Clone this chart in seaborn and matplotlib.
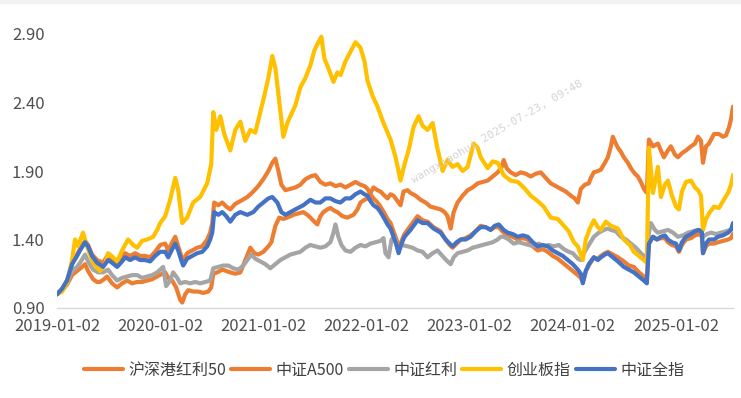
import numpy as np
import pandas as pd
import matplotlib
matplotlib.use("Agg")
import matplotlib.pyplot as plt
import seaborn as sns
from matplotlib.patches import Rectangle

# ---------------- data (time = years elapsed since 2019-01-02) ----------------
START = "2019-01-02"
series_names = ["沪深港红利50", "中证A500", "中证红利", "创业板指", "中证全指"]
series_colors = ["#ED7D31", "#ED7D31", "#A5A5A5", "#FFC000", "#4472C4"]
x_tick_labels = ["2019-01-02", "2020-01-02", "2021-01-02", "2022-01-02",
                 "2023-01-02", "2024-01-02", "2025-01-02"]
y_ticks = [0.90, 1.40, 1.90, 2.40, 2.90]

t_div = [0, .049, .097, .146, .194, .243, .272, .301, .350, .388, .417, .456, .485, .534, .583,
         .631, .680, .728, .777, .825, .874, .922, .971, 1.019, 1.049, 1.078, 1.117, 1.155, 1.194,
         1.214, 1.243, 1.272, 1.320, 1.369, 1.417, 1.466, 1.495, 1.515, 1.553, 1.602, 1.641, 1.680,
         1.728, 1.777, 1.825, 1.874, 1.913, 1.951, 2.000, 2.049, 2.078, 2.117, 2.155, 2.194, 2.233,
         2.291, 2.340, 2.388, 2.427, 2.456, 2.495, 2.524, 2.553, 2.583, 2.621, 2.650, 2.689, 2.718,
         2.767, 2.816, 2.845, 2.874, 2.913, 2.942, 2.981, 3.010, 3.039, 3.068, 3.107, 3.136, 3.175,
         3.204, 3.233, 3.262, 3.301, 3.330, 3.359, 3.398, 3.427, 3.476, 3.524, 3.573, 3.621, 3.670,
         3.718, 3.757, 3.786, 3.816, 3.845, 3.883, 3.932, 3.981, 4.029, 4.078, 4.126, 4.175, 4.223,
         4.272, 4.311, 4.330, 4.359, 4.398, 4.447, 4.495, 4.544, 4.592, 4.641, 4.689, 4.738, 4.786,
         4.835, 4.883, 4.932, 4.981, 5.019, 5.049, 5.078, 5.117, 5.155, 5.175, 5.204, 5.243, 5.272,
         5.311, 5.340, 5.369, 5.388, 5.417, 5.437, 5.466, 5.495, 5.534, 5.563, 5.602, 5.631, 5.660,
         5.689, 5.718, 5.738, 5.777, 5.825, 5.854, 5.883, 5.922, 5.951, 5.990, 6.019, 6.058, 6.097,
         6.146, 6.184, 6.214, 6.243, 6.262, 6.291, 6.320, 6.369, 6.417, 6.456, 6.485, 6.515, 6.534,
         6.553]
v_div = [1.00, 1.03, 1.07, 1.14, 1.17, 1.20, 1.22, 1.17, 1.11, 1.09, 1.09, 1.11, 1.13, 1.08, 1.05,
         1.08, 1.10, 1.08, 1.09, 1.09, 1.10, 1.11, 1.13, 1.15, 1.16, 1.12, 1.10, 1.05, 0.96,
         0.94, 1.00, 1.03, 1.02, 1.02, 1.01, 1.02, 1.05, 1.15, 1.16, 1.18, 1.17, 1.16,
         1.15, 1.16, 1.25, 1.34, 1.30, 1.29, 1.31, 1.35, 1.38, 1.50, 1.56, 1.55, 1.56,
         1.58, 1.59, 1.60, 1.58, 1.56, 1.53, 1.51, 1.57, 1.60, 1.62, 1.63, 1.61, 1.60,
         1.57, 1.56, 1.57, 1.58, 1.62, 1.67, 1.69, 1.70, 1.74, 1.78, 1.76, 1.75, 1.72,
         1.70, 1.73, 1.72, 1.68, 1.65, 1.75, 1.76, 1.74, 1.72, 1.69, 1.67, 1.64, 1.63,
         1.62, 1.60, 1.57, 1.48, 1.60, 1.67, 1.72, 1.76, 1.78, 1.81, 1.82, 1.83, 1.86,
         1.89, 1.93, 1.98, 1.92, 1.89, 1.87, 1.89, 1.88, 1.86, 1.88, 1.89, 1.85, 1.81,
         1.79, 1.77, 1.75, 1.72, 1.70, 1.67, 1.77, 1.80, 1.81, 1.85, 1.89, 1.90, 1.91,
         1.96, 2.00, 2.08, 2.15, 2.10, 2.07, 2.04, 2.00, 1.96, 1.92, 1.88, 1.86, 1.82,
         1.77, 1.74, 2.13, 2.08, 2.10, 2.05, 2.00, 2.05, 2.08, 2.02, 2.00, 2.03, 2.05,
         2.08, 2.10, 2.15, 2.12, 1.96, 2.08, 2.10, 2.17, 2.17, 2.15, 2.16, 2.22, 2.28,
         2.37]

t_a500 = [0, .049, .097, .146, .194, .223, .272, .301, .340, .388, .447, .495, .534, .583, .631,
          .660, .709, .757, .806, .854, .903, .951, 1.000, 1.049, 1.078, 1.117, 1.146, 1.175,
          1.204, 1.223, 1.262, 1.311, 1.359, 1.408, 1.456, 1.485, 1.505, 1.524, 1.563, 1.602,
          1.641, 1.680, 1.728, 1.777, 1.845, 1.903, 1.951, 2.000, 2.049, 2.087, 2.117, 2.146,
          2.175, 2.214, 2.262, 2.311, 2.359, 2.408, 2.456, 2.505, 2.553, 2.602, 2.650, 2.699,
          2.748, 2.796, 2.845, 2.893, 2.942, 2.981, 3.010, 3.039, 3.068, 3.107, 3.136, 3.175,
          3.204, 3.233, 3.262, 3.291, 3.311, 3.340, 3.369, 3.427, 3.466, 3.495, 3.544, 3.592,
          3.650, 3.718, 3.767, 3.806, 3.835, 3.874, 3.913, 3.961, 4.010, 4.058, 4.107, 4.155,
          4.204, 4.243, 4.282, 4.330, 4.369, 4.417, 4.466, 4.515, 4.563, 4.612, 4.660, 4.709,
          4.757, 4.806, 4.854, 4.903, 4.951, 5.000, 5.049, 5.078, 5.097, 5.126, 5.155, 5.204,
          5.243, 5.272, 5.311, 5.340, 5.388, 5.437, 5.495, 5.544, 5.592, 5.641, 5.689, 5.718,
          5.738, 5.777, 5.816, 5.854, 5.893, 5.922, 5.961, 6.000, 6.029, 6.058, 6.097, 6.146,
          6.184, 6.223, 6.252, 6.262, 6.291, 6.320, 6.369, 6.408, 6.456, 6.505, 6.534, 6.553]
v_a500 = [1.00, 1.04, 1.10, 1.22, 1.29, 1.33, 1.39, 1.36, 1.29, 1.25, 1.23, 1.29, 1.26, 1.23, 1.27,
          1.30, 1.28, 1.30, 1.28, 1.28, 1.27, 1.31, 1.36, 1.37, 1.32, 1.38, 1.42, 1.35,
          1.28, 1.25, 1.30, 1.32, 1.34, 1.35, 1.40, 1.45, 1.52, 1.67, 1.65, 1.67,
          1.64, 1.62, 1.66, 1.68, 1.71, 1.75, 1.79, 1.84, 1.90, 1.96, 1.99, 1.90,
          1.80, 1.76, 1.77, 1.78, 1.80, 1.84, 1.86, 1.87, 1.82, 1.80, 1.81, 1.79,
          1.80, 1.78, 1.80, 1.82, 1.80, 1.79, 1.77, 1.73, 1.70, 1.67, 1.64, 1.59,
          1.55, 1.52, 1.46, 1.40, 1.33, 1.39, 1.44, 1.50, 1.54, 1.57, 1.54, 1.53,
          1.49, 1.46, 1.40, 1.36, 1.34, 1.37, 1.40, 1.41, 1.43, 1.46, 1.50, 1.49,
          1.47, 1.49, 1.49, 1.45, 1.43, 1.42, 1.40, 1.41, 1.40, 1.35, 1.32, 1.33,
          1.31, 1.28, 1.26, 1.23, 1.20, 1.17, 1.14, 1.12, 1.09, 1.17, 1.21, 1.27,
          1.26, 1.28, 1.30, 1.31, 1.29, 1.27, 1.24, 1.21, 1.20, 1.16, 1.13, 1.11,
          1.37, 1.42, 1.40, 1.41, 1.41, 1.38, 1.36, 1.35, 1.31, 1.36, 1.40, 1.41,
          1.43, 1.44, 1.42, 1.30, 1.35, 1.37, 1.37, 1.38, 1.39, 1.40, 1.41, 1.44]

t_div_cs = [0, .049, .097, .146, .194, .223, .272, .301, .350, .398, .447, .495, .534, .583, .631,
            .680, .728, .777, .825, .874, .922, .971, 1.000, 1.029, 1.058, 1.097, 1.126, 1.165,
            1.194, 1.243, 1.291, 1.340, 1.388, 1.437, 1.485, 1.515, 1.563, 1.612, 1.660, 1.709,
            1.757, 1.806, 1.854, 1.883, 1.922, 1.971, 2.019, 2.068, 2.117, 2.165, 2.214, 2.262,
            2.311, 2.359, 2.408, 2.456, 2.505, 2.553, 2.602, 2.650, 2.680, 2.699, 2.728, 2.757,
            2.796, 2.845, 2.893, 2.942, 2.990, 3.039, 3.087, 3.136, 3.165, 3.184, 3.214, 3.243,
            3.272, 3.301, 3.340, 3.398, 3.447, 3.495, 3.544, 3.592, 3.641, 3.689, 3.748, 3.786,
            3.816, 3.845, 3.883, 3.932, 3.981, 4.029, 4.078, 4.126, 4.175, 4.223, 4.272, 4.301,
            4.330, 4.379, 4.427, 4.476, 4.524, 4.573, 4.621, 4.670, 4.718, 4.767, 4.816, 4.864,
            4.913, 4.961, 5.000, 5.049, 5.078, 5.107, 5.155, 5.204, 5.252, 5.301, 5.340, 5.369,
            5.417, 5.466, 5.515, 5.563, 5.612, 5.660, 5.689, 5.718, 5.738, 5.757, 5.796, 5.825,
            5.874, 5.922, 5.971, 6.019, 6.068, 6.117, 6.165, 6.214, 6.243, 6.262, 6.301, 6.340,
            6.388, 6.437, 6.485, 6.524, 6.553]
v_div_cs = [1.00, 1.03, 1.08, 1.17, 1.20, 1.23, 1.29, 1.24, 1.18, 1.16, 1.16, 1.18, 1.14, 1.10, 1.12,
            1.13, 1.14, 1.14, 1.12, 1.13, 1.14, 1.16, 1.18, 1.20, 1.06, 1.10, 1.16, 1.12,
            1.08, 1.09, 1.08, 1.09, 1.08, 1.09, 1.10, 1.19, 1.20, 1.21, 1.21, 1.19,
            1.18, 1.21, 1.26, 1.29, 1.26, 1.24, 1.22, 1.19, 1.22, 1.25, 1.27, 1.29,
            1.30, 1.31, 1.34, 1.36, 1.35, 1.34, 1.35, 1.38, 1.45, 1.51, 1.42, 1.36,
            1.32, 1.31, 1.34, 1.36, 1.35, 1.37, 1.38, 1.39, 1.41, 1.30, 1.27, 1.40,
            1.42, 1.33, 1.36, 1.35, 1.34, 1.32, 1.31, 1.27, 1.30, 1.32, 1.27, 1.24,
            1.22, 1.27, 1.30, 1.31, 1.32, 1.34, 1.35, 1.36, 1.37, 1.38, 1.40, 1.42,
            1.42, 1.40, 1.37, 1.38, 1.37, 1.36, 1.35, 1.37, 1.35, 1.36, 1.35, 1.36,
            1.33, 1.31, 1.30, 1.26, 1.25, 1.30, 1.36, 1.42, 1.45, 1.47, 1.48, 1.47,
            1.46, 1.42, 1.40, 1.37, 1.34, 1.30, 1.28, 1.27, 1.45, 1.52, 1.47, 1.45,
            1.46, 1.47, 1.45, 1.42, 1.43, 1.45, 1.46, 1.47, 1.46, 1.42, 1.44, 1.45,
            1.44, 1.45, 1.46, 1.47, 1.48]

t_gem = [0, .049, .097, .146, .175, .204, .252, .291, .350, .417, .466, .495, .544, .583, .631,
         .689, .738, .777, .825, .874, .932, .971, 1.000, 1.049, 1.097, 1.146, 1.175, 1.214,
         1.262, 1.320, 1.388, 1.456, 1.495, 1.515, 1.544, 1.583, 1.621, 1.680, 1.728, 1.777,
         1.825, 1.874, 1.922, 1.971, 2.010, 2.049, 2.087, 2.117, 2.155, 2.194, 2.233, 2.262,
         2.311, 2.359, 2.408, 2.456, 2.495, 2.534, 2.563, 2.592, 2.621, 2.680, 2.718, 2.748,
         2.796, 2.845, 2.893, 2.942, 2.981, 3.010, 3.058, 3.107, 3.165, 3.233, 3.282, 3.330,
         3.369, 3.408, 3.456, 3.505, 3.544, 3.592, 3.641, 3.689, 3.738, 3.786, 3.835, 3.883,
         3.932, 3.981, 4.039, 4.078, 4.107, 4.175, 4.223, 4.272, 4.330, 4.398, 4.466, 4.524,
         4.592, 4.660, 4.718, 4.786, 4.854, 4.913, 4.961, 5.010, 5.049, 5.097, 5.126, 5.165,
         5.204, 5.243, 5.272, 5.320, 5.369, 5.437, 5.495, 5.553, 5.592, 5.641, 5.689, 5.718,
         5.738, 5.777, 5.806, 5.825, 5.854, 5.893, 5.922, 5.961, 6.000, 6.029, 6.058, 6.097,
         6.146, 6.184, 6.214, 6.243, 6.262, 6.291, 6.320, 6.369, 6.417, 6.456, 6.505, 6.534,
         6.553]
v_gem = [1.00, 1.02, 1.08, 1.25, 1.40, 1.35, 1.45, 1.35, 1.23, 1.17, 1.22, 1.30, 1.27, 1.24, 1.32,
         1.40, 1.36, 1.34, 1.39, 1.40, 1.42, 1.47, 1.52, 1.57, 1.69, 1.85, 1.76, 1.52,
         1.56, 1.67, 1.71, 1.81, 1.95, 2.33, 2.20, 2.30, 2.17, 2.05, 2.20, 2.26,
         2.12, 2.20, 2.18, 2.33, 2.45, 2.58, 2.74, 2.65, 2.40, 2.15, 2.25, 2.30,
         2.38, 2.51, 2.58, 2.67, 2.78, 2.84, 2.88, 2.72, 2.67, 2.55, 2.62, 2.60,
         2.70, 2.77, 2.84, 2.80, 2.70, 2.56, 2.45, 2.37, 2.25, 2.13, 2.00, 1.83,
         1.95, 2.05, 2.22, 2.30, 2.23, 2.20, 2.25, 2.06, 1.90, 1.98, 1.93, 1.95,
         1.90, 1.93, 2.10, 2.07, 2.00, 1.92, 1.97, 1.96, 1.87, 1.83, 1.82, 1.78,
         1.72, 1.68, 1.64, 1.56, 1.55, 1.50, 1.46, 1.38, 1.35, 1.25, 1.40, 1.48,
         1.54, 1.49, 1.47, 1.53, 1.50, 1.48, 1.40, 1.36, 1.31, 1.28, 1.25, 1.23,
         2.07, 1.74, 1.85, 1.93, 1.71, 1.80, 1.83, 1.72, 1.64, 1.62, 1.75, 1.82,
         1.83, 1.78, 1.76, 1.72, 1.47, 1.55, 1.59, 1.64, 1.63, 1.68, 1.74, 1.80,
         1.87]

t_all = [0, .049, .097, .146, .194, .223, .272, .301, .340, .388, .447, .495, .534, .583, .631,
         .660, .709, .757, .806, .854, .903, .951, 1.000, 1.049, 1.078, 1.117, 1.146, 1.175,
         1.204, 1.223, 1.262, 1.311, 1.359, 1.408, 1.456, 1.485, 1.505, 1.524, 1.563, 1.602,
         1.641, 1.680, 1.728, 1.777, 1.845, 1.903, 1.951, 2.000, 2.049, 2.087, 2.136, 2.175,
         2.214, 2.262, 2.311, 2.388, 2.456, 2.505, 2.553, 2.602, 2.650, 2.699, 2.748, 2.796,
         2.845, 2.893, 2.942, 2.981, 3.010, 3.039, 3.068, 3.107, 3.136, 3.175, 3.204, 3.233,
         3.262, 3.291, 3.311, 3.340, 3.369, 3.427, 3.466, 3.495, 3.544, 3.592, 3.650, 3.718,
         3.767, 3.806, 3.835, 3.874, 3.913, 3.961, 4.010, 4.058, 4.107, 4.155, 4.204, 4.243,
         4.282, 4.330, 4.369, 4.417, 4.466, 4.515, 4.563, 4.612, 4.660, 4.709, 4.757, 4.806,
         4.854, 4.903, 4.951, 5.000, 5.049, 5.078, 5.097, 5.126, 5.155, 5.204, 5.243, 5.272,
         5.311, 5.340, 5.388, 5.437, 5.495, 5.544, 5.592, 5.641, 5.689, 5.718, 5.738, 5.777,
         5.816, 5.854, 5.893, 5.922, 5.961, 6.000, 6.029, 6.058, 6.097, 6.146, 6.184, 6.223,
         6.252, 6.262, 6.291, 6.320, 6.369, 6.408, 6.456, 6.505, 6.534, 6.553]
v_all = [1.00, 1.04, 1.10, 1.22, 1.28, 1.32, 1.38, 1.35, 1.28, 1.23, 1.20, 1.25, 1.23, 1.20, 1.24,
         1.27, 1.25, 1.27, 1.25, 1.25, 1.24, 1.28, 1.31, 1.31, 1.27, 1.33, 1.37, 1.32,
         1.25, 1.21, 1.26, 1.28, 1.30, 1.31, 1.35, 1.40, 1.45, 1.60, 1.58, 1.60,
         1.57, 1.53, 1.58, 1.60, 1.58, 1.60, 1.64, 1.67, 1.70, 1.71, 1.67, 1.60,
         1.58, 1.60, 1.62, 1.65, 1.69, 1.67, 1.67, 1.70, 1.70, 1.68, 1.67, 1.70,
         1.70, 1.73, 1.75, 1.73, 1.72, 1.68, 1.65, 1.63, 1.60, 1.55, 1.51, 1.48,
         1.42, 1.36, 1.30, 1.37, 1.42, 1.47, 1.51, 1.54, 1.52, 1.52, 1.48, 1.45,
         1.40, 1.37, 1.35, 1.38, 1.40, 1.40, 1.42, 1.46, 1.49, 1.49, 1.47, 1.50,
         1.51, 1.47, 1.45, 1.44, 1.42, 1.43, 1.42, 1.38, 1.35, 1.36, 1.35, 1.32,
         1.30, 1.28, 1.25, 1.22, 1.18, 1.15, 1.08, 1.17, 1.22, 1.27, 1.25, 1.27,
         1.29, 1.30, 1.27, 1.24, 1.20, 1.18, 1.16, 1.13, 1.10, 1.08, 1.37, 1.42,
         1.40, 1.42, 1.43, 1.40, 1.38, 1.37, 1.32, 1.38, 1.42, 1.44, 1.46, 1.47,
         1.45, 1.30, 1.37, 1.40, 1.40, 1.42, 1.43, 1.45, 1.47, 1.52]

series_t = [t_div, t_a500, t_div_cs, t_gem, t_all]
series_v = [v_div, v_a500, v_div_cs, v_gem, v_all]

# ---------------- build long table ----------------
start = pd.Timestamp(START)
frames = []
for name, t, v in zip(series_names, series_t, series_v):
    d = start + pd.to_timedelta(np.asarray(t) * 365.25, unit="D")
    frames.append(pd.DataFrame({"date": d, "value": v, "series": name}))
df = pd.concat(frames, ignore_index=True)

# ---------------- style ----------------
sns.set_theme(style="white")
plt.rcParams["font.family"] = ["Noto Sans CJK SC", "DejaVu Sans"]
plt.rcParams["axes.unicode_minus"] = False

fig = plt.figure(figsize=(7.41, 3.98), dpi=100)
fig.patch.set_facecolor("white")
ax = fig.add_axes([57 / 741, 1 - 308 / 398, (733 - 57) / 741, (308 - 34) / 398])

for name, color in zip(series_names, series_colors):
    sub = df[df["series"] == name]
    sns.lineplot(data=sub, x="date", y="value", color=color, linewidth=3.0,
                 label=name, ax=ax, estimator=None, sort=False)

ax.set_ylim(0.90, 2.90)
ax.set_xlim(df["date"].min(), df["date"].max())
ax.set_yticks(y_ticks)
ax.set_yticklabels([f"{v:.2f}" for v in y_ticks])
ax.set_xticks(pd.to_datetime(x_tick_labels))
ax.set_xticklabels(x_tick_labels)
ax.set_xlabel("")
ax.set_ylabel("")
ax.tick_params(axis="both", length=0, labelsize=12, labelcolor="#505050")
ax.tick_params(axis="y", pad=9)
ax.tick_params(axis="x", pad=7)
for s in ["top", "right", "left"]:
    ax.spines[s].set_visible(False)
ax.spines["bottom"].set_color("#D9D9D9")
ax.spines["bottom"].set_linewidth(1.0)
ax.grid(False)

handles, labels = ax.get_legend_handles_labels()
ax.get_legend().remove()
fig.legend(handles, labels, loc="center", bbox_to_anchor=(384 / 741, 1 - 370 / 398),
           ncol=5, frameon=False, fontsize=11.5, handlelength=2.45, handletextpad=0.35,
           columnspacing=0.3, labelcolor="#404040")

# watermark text
fig.text(497 / 741, 1 - 132 / 398, "wangxiaohui 2025-07-23, 09:48", rotation=30,
         ha="center", va="center", fontsize=8, color="#d4d4d4",
         family=["DejaVu Sans Mono"], zorder=10)

fig.patches.append(Rectangle((0, 1 - 3 / 398), 1, 3 / 398, transform=fig.transFigure,
                             color="#f2f2f2", zorder=-1))

fig.savefig("out.png", dpi=100)
